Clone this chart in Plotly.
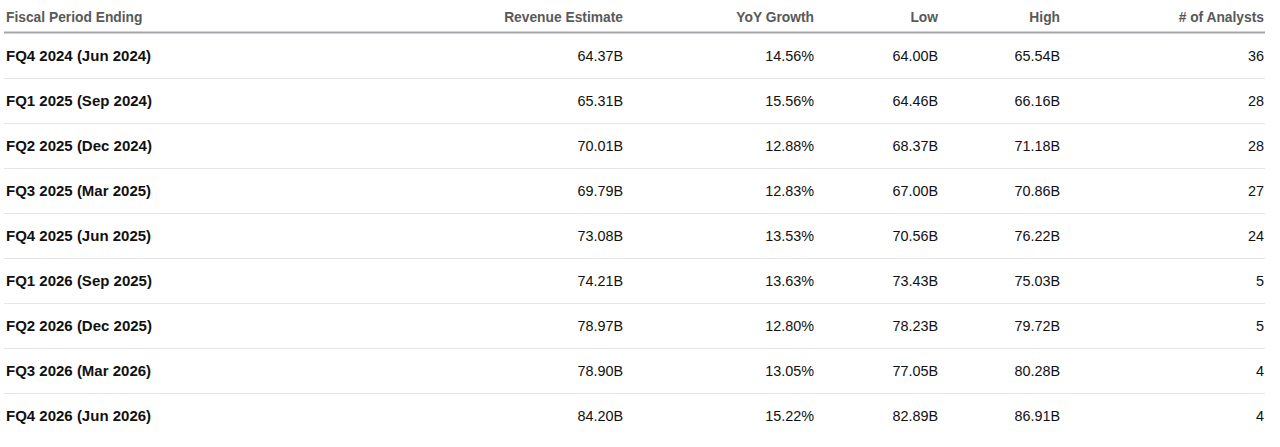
import plotly.graph_objects as go

headers = ["Fiscal Period Ending", "Revenue Estimate", "YoY Growth", "Low", "High", "# of Analysts"]
periods = ["FQ4 2024 (Jun 2024)", "FQ1 2025 (Sep 2024)", "FQ2 2025 (Dec 2024)", "FQ3 2025 (Mar 2025)",
           "FQ4 2025 (Jun 2025)", "FQ1 2026 (Sep 2025)", "FQ2 2026 (Dec 2025)", "FQ3 2026 (Mar 2026)",
           "FQ4 2026 (Jun 2026)"]
revenue_estimate = [64.37, 65.31, 70.01, 69.79, 73.08, 74.21, 78.97, 78.90, 84.20]
yoy_growth = [14.56, 15.56, 12.88, 12.83, 13.53, 13.63, 12.80, 13.05, 15.22]
low = [64.00, 64.46, 68.37, 67.00, 70.56, 73.43, 78.23, 77.05, 82.89]
high = [65.54, 66.16, 71.18, 70.86, 76.22, 75.03, 79.72, 80.28, 86.91]
analysts = [36, 28, 28, 27, 24, 5, 5, 4, 4]

# layout (pixel-based axes)
W, H = 1280, 447
header_y = 18.5
row_y0, row_h = 57, 45
line_y0 = 78.5
left_x, right_x = 4, 1265
col_x = [6, 623, 814, 938, 1060, 1264]
col_anchor = ["middle right", "middle left", "middle left", "middle left", "middle left", "middle left"]

FONT = "Liberation Sans, Arial, Helvetica, sans-serif"
rows_y = [row_y0 + row_h * i for i in range(len(periods))]

columns = [
    periods,
    [f"{v:.2f}B" for v in revenue_estimate],
    [f"{v:.2f}%" for v in yoy_growth],
    [f"{v:.2f}B" for v in low],
    [f"{v:.2f}B" for v in high],
    [str(v) for v in analysts],
]

fig = go.Figure()
for ci, (h, col) in enumerate(zip(headers, columns)):
    pos = col_anchor[ci]
    fig.add_trace(go.Scatter(
        x=[col_x[ci]], y=[header_y], mode="text", text=[f"<b>{h}</b>"],
        textposition=pos, textfont=dict(family=FONT, size=13.8, color="#595959"),
        hoverinfo="skip", showlegend=False, cliponaxis=False))
    txt = [f"<b>{t}</b>" for t in col] if ci == 0 else col
    fig.add_trace(go.Scatter(
        x=[col_x[ci]] * len(col), y=rows_y, mode="text", text=txt,
        textposition=pos,
        textfont=dict(family=FONT, size=15 if ci == 0 else 14.4, color="#111111"),
        hoverinfo="skip", showlegend=False, cliponaxis=False))

shapes = [dict(type="line", xref="x", yref="y", x0=left_x, x1=right_x, y0=32.5, y1=32.5,
               line=dict(color="#a3a7ab", width=2))]
for i in range(len(periods) - 1):
    yy = line_y0 + row_h * i
    shapes.append(dict(type="line", xref="x", yref="y", x0=left_x, x1=right_x, y0=yy, y1=yy,
                       line=dict(color="#e6e6e6", width=1)))

fig.update_layout(
    width=W, height=H, margin=dict(l=0, r=0, t=0, b=0),
    paper_bgcolor="white", plot_bgcolor="white",
    xaxis=dict(range=[0, W], visible=False, fixedrange=True),
    yaxis=dict(range=[H, 0], visible=False, fixedrange=True),
    shapes=shapes,
)
fig.write_html("out.html", config={"displayModeBar": False},
               post_script="document.body.style.margin='0';document.body.style.overflow='hidden';")
